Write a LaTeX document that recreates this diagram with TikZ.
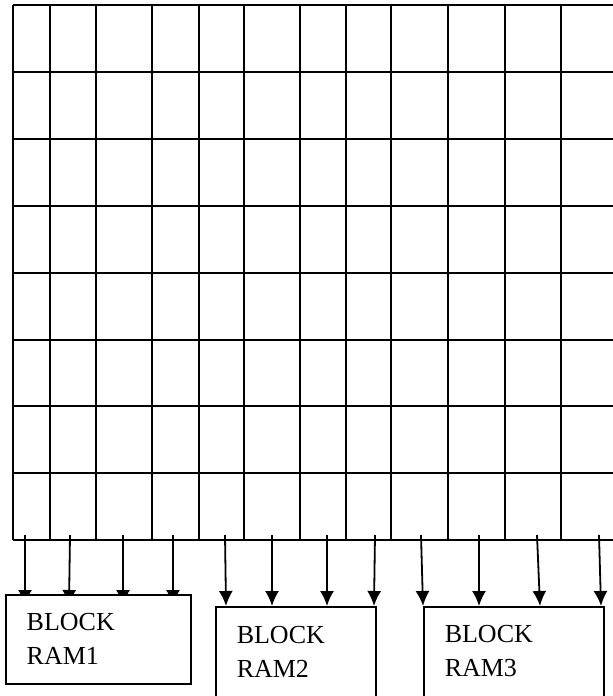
\documentclass[tikz,border=0pt]{standalone}
\usepackage{fontspec}
\setmainfont{Liberation Serif}
\usetikzlibrary{positioning,arrows.meta,backgrounds}

\begin{document}
\begin{tikzpicture}[
    x=1pt, y=-1pt,
    gridline/.style={line width=1.8pt, draw=black},
    flow/.style={-{Latex[length=15pt,width=14pt]}, line width=1.8pt, draw=black},
    rambox/.style={
        draw=black,
        fill=white,
        line width=1.5pt,
        anchor=north west,
        align=left,
        inner xsep=21pt,
        font=\fontsize{26}{34}\selectfont
    }
]
\useasboundingbox (0,0) rectangle (613,696);

\foreach \y in {5,72,139,206,273,340,406,473,540}
    \draw[gridline] (13,\y) -- (613,\y);
\foreach \x in {13,50,96,152,199,244,300,346,391,448,505,561}
    \draw[gridline] (\x,5) -- (\x,540);

\foreach \x [count=\i] in {25,70,123,173,225,272,327,375,421,479,537,599}
    \coordinate (tap\i) at (\x,535);

\node[rambox, text width=143pt, minimum width=185pt, minimum height=89pt] (ram1) at (5,594) {BLOCK\\RAM1};
\node[rambox, text width=118pt, minimum width=160pt, minimum height=89.5pt] (ram2) at (215,606) {BLOCK\\RAM2};
\node[rambox, text width=138pt, minimum width=180pt, minimum height=89.5pt] (ram3) at (423,606) {BLOCK\\RAM3};

\begin{scope}[on background layer]
\foreach \i/\d in {1/20,2/64,3/118,4/168}
    \draw[flow] (tap\i) -- ([xshift=\d pt,yshift=-11pt]ram1.north west);
\end{scope}
\foreach \i/\d in {5/11,6/57,7/112,8/159}
    \draw[flow] (tap\i) -- ([xshift=\d pt]ram2.north west);
\foreach \i/\d in {9/0,10/56,11/117,12/178}
    \draw[flow] (tap\i) -- ([xshift=\d pt]ram3.north west);
\end{tikzpicture}
\end{document}
